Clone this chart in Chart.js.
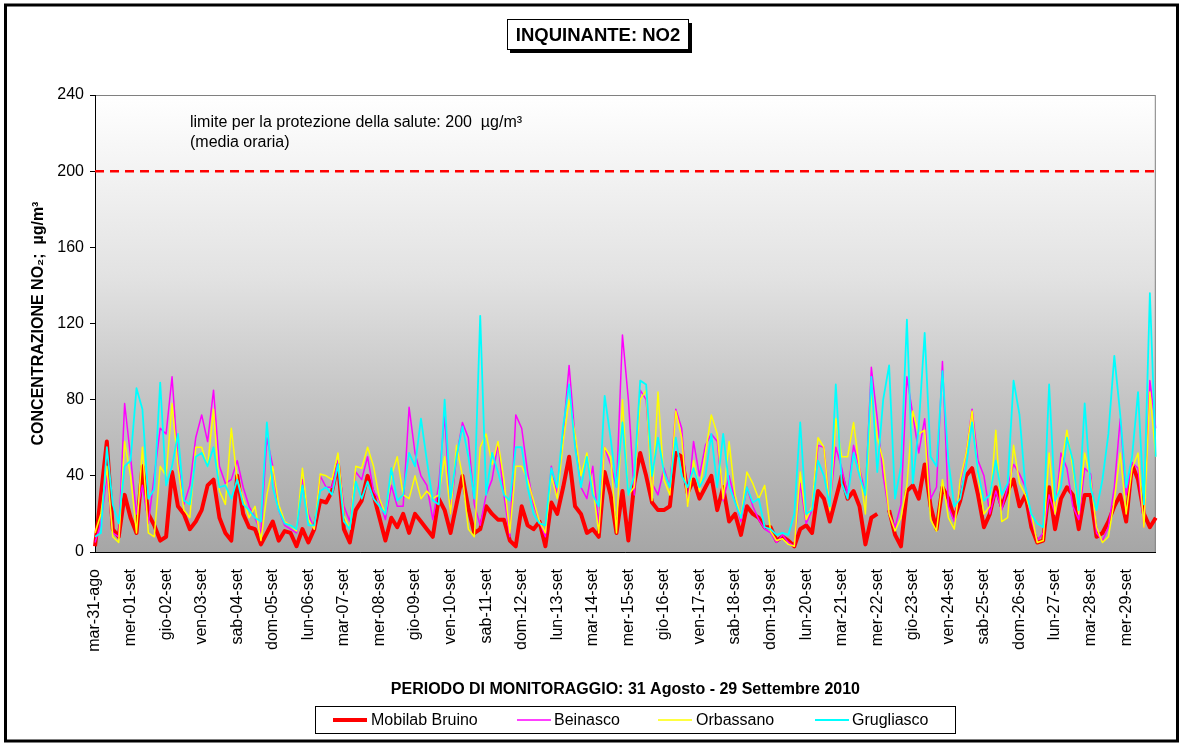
<!DOCTYPE html>
<html>
<head>
<meta charset="utf-8">
<script src="https://cdn.jsdelivr.net/npm/chart.js@4.4.1/dist/chart.umd.min.js"></script>
<style>
  body { margin: 0; background: #fff; }
  #wrap { width: 1184px; height: 744px; }
</style>
</head>
<body>
<div id="wrap"><canvas id="no2"></canvas></div>
<script>
// giorni del periodo (etichette asse x)
const giorni = [
  "mar-31-ago", "mer-01-set", "gio-02-set", "ven-03-set", "sab-04-set", "dom-05-set",
  "lun-06-set", "mar-07-set", "mer-08-set", "gio-09-set", "ven-10-set", "sab-11-set",
  "dom-12-set", "lun-13-set", "mar-14-set", "mer-15-set", "gio-16-set", "ven-17-set",
  "sab-18-set", "dom-19-set", "lun-20-set", "mar-21-set", "mer-22-set", "gio-23-set",
  "ven-24-set", "sab-25-set", "dom-26-set", "lun-27-set", "mar-28-set", "mer-29-set",
];
const ore = ["00", "04", "08", "12", "16", "20"]; // un valore ogni 4 ore
const limite = 200; // µg/m³, media oraria

// concentrazioni NO2 (µg/m³), 6 valori al giorno
const bruino = [
  3, 30, 58, 12, 8, 30,   18, 10, 45, 20, 14, 6,   8, 42, 24, 20, 12, 16,
  22, 35, 38, 18, 10, 6,  40, 20, 13, 12, 4, 10,   16, 6, 11, 10, 3, 12,
  5, 12, 27, 26, 32, 46,  12, 5, 22, 27, 40, 30,   18, 6, 18, 13, 20, 10,
  20, 16, 12, 8, 28, 22,  10, 25, 40, 23, 10, 12,  24, 20, 17, 17, 6, 3,
  24, 14, 12, 16, 3, 26,  20, 34, 50, 24, 20, 10,  12, 8, 42, 30, 10, 32,
  6, 36, 52, 40, 26, 22,  22, 24, 52, 50, 31, 38,  28, 34, 40, 22, 34, 16,
  20, 9, 24, 20, 18, 13,  13, 6, 8, 6, 3, 12,      14, 10, 32, 28, 16, 28,
  40, 28, 32, 24, 4, 18,  20, null, 22, 9, 3, 32,  35, 28, 46, 24, 12, 34,
  28, 18, 27, 40, 44, 30, 13, 20, 34, 24, 32, 38,  24, 30, 13, 5, 6, 34,
  12, 28, 34, 30, 12, 30, 30, 8, 10, 16, 24, 30,   16, 46, 38, 20, 13, 18,
];
const beinasco = [
  5, 15, 40, 10, 8, 78,   50, 20, 35, 15, 40, 65,  62, 92, 48, 25, 35, 60,
  72, 58, 85, 45, 36, 38, 48, 34, 24, 18, 10, 60,  45, 22, 14, 12, 10, 38,
  20, 12, 40, 34, 34, 48, 24, 16, 42, 38, 50, 32,  27, 17, 35, 24, 24, 76,
  52, 40, 35, 17, 35, 72, 20, 50, 68, 60, 25, 14,  30, 38, 57, 30, 8, 72,
  65, 42, 25, 16, 8, 45,  30, 62, 98, 60, 34, 28,  45, 14, 55, 46, 34, 114,
  80, 30, 85, 80, 36, 30, 44, 34, 75, 65, 25, 58,  40, 56, 62, 58, 27, 40,
  27, 16, 34, 24, 17, 12, 10, 5, 9, 5, 3, 36,      15, 22, 56, 55, 24, 55,
  44, 30, 56, 44, 30, 97, 70, 40, 20, 13, 25, 92,  72, 52, 70, 28, 34, 100,
  24, 16, 36, 52, 75, 48, 40, 20, 32, 22, 34, 46,  41, 34, 17, 6, 10, 30,
  20, 52, 44, 24, 17, 44, 41, 10, 6, 13, 34, 70,   30, 47, 44, 13, 90, 65,
];
const orbassano = [
  10, 20, 45, 8, 5, 58,   40, 10, 55, 10, 8, 45,   40, 78, 45, 22, 18, 55,
  55, 45, 75, 32, 25, 65, 38, 28, 18, 24, 6, 30,   45, 25, 16, 14, 11, 44,
  17, 12, 41, 40, 38, 52, 19, 12, 45, 44, 55, 45,  28, 20, 40, 50, 30, 28,
  40, 28, 32, 28, 30, 50, 20, 56, 40, 12, 8, 55,   62, 46, 58, 38, 10, 45,
  45, 38, 27, 16, 10, 40, 28, 58, 80, 62, 40, 52,  34, 10, 55, 50, 10, 80,
  30, 34, 80, 85, 27, 84, 38, 30, 74, 60, 24, 48,  32, 52, 72, 62, 28, 58,
  30, 18, 42, 36, 28, 35, 11, 6, 7, 4, 3, 42,      17, 24, 60, 55, 22, 70,
  50, 50, 68, 44, 20, 84, 60, 48, 20, 11, 18, 35,  74, 62, 64, 17, 11, 38,
  18, 12, 38, 52, 74, 40, 20, 24, 64, 16, 18, 56,  36, 30, 20, 5, 6, 52,
  20, 44, 64, 44, 20, 52, 38, 13, 5, 8, 27, 52,    20, 44, 52, 13, 84, 50,
];
const grugliasco = [
  8, 10, 55, 25, 15, 45,  48, 86, 75, 28, 33, 89,  35, 45, 62, 27, 25, 50,
  52, 45, 55, 34, 35, 28, 38, 25, 22, 18, 16, 68,  34, 22, 15, 14, 12, 35,
  14, 14, 32, 34, 30, 46, 16, 12, 37, 28, 37, 28,  24, 20, 44, 27, 30, 52,
  45, 70, 48, 27, 25, 80, 28, 50, 66, 50, 28, 124, 30, 52, 42, 30, 27, 55,
  55, 34, 20, 15, 14, 44, 34, 66, 88, 55, 34, 50,  30, 24, 82, 60, 34, 68,
  30, 40, 90, 88, 40, 60, 42, 34, 60, 40, 34, 44,  34, 40, 62, 34, 62, 35,
  26, 18, 34, 26, 28, 13, 12, 9, 10, 9, 20, 68,    20, 22, 48, 40, 24, 88,
  36, 28, 52, 40, 30, 92, 42, 80, 98, 28, 45, 122, 36, 66, 115, 50, 45, 95,
  48, 24, 28, 45, 68, 42, 27, 30, 48, 30, 36, 90,  72, 34, 20, 15, 13, 88,
  27, 34, 60, 48, 22, 78, 34, 22, 38, 62, 103, 72, 34, 50, 84, 25, 136, 50,
];

const etichette = giorni.flatMap((g) => ore.map((h) => g + " " + h));

// sfondo sfumato, cornici, titolo, nota sul limite e legenda
const decorazioni = {
  id: "decorazioni",
  beforeDraw(chart) {
    const { ctx, chartArea: a } = chart;
    ctx.save();
    ctx.fillStyle = "#fff";
    ctx.fillRect(0, 0, chart.width, chart.height);
    const g = ctx.createLinearGradient(0, a.top, 0, a.bottom);
    g.addColorStop(0, "#ffffff");
    g.addColorStop(0.4, "#e2e2e2");
    g.addColorStop(0.67, "#c4c4c4");
    g.addColorStop(1, "#a6a6a6");
    ctx.fillStyle = g;
    ctx.fillRect(a.left, a.top, a.right - a.left, a.bottom - a.top);
    ctx.strokeStyle = "#808080";
    ctx.lineWidth = 1;
    ctx.strokeRect(a.left + 0.5, a.top + 0.5, a.right - a.left - 1, a.bottom - a.top);
    ctx.restore();
  },
  afterDraw(chart) {
    const { ctx } = chart;
    ctx.save();
    // cornice esterna
    ctx.strokeStyle = "#000";
    ctx.lineWidth = 3;
    ctx.strokeRect(5.5, 5, 1172, 736);

    // titolo con ombra
    ctx.fillStyle = "#000";
    ctx.fillRect(510, 23, 182, 30);
    ctx.fillStyle = "#fff";
    ctx.fillRect(507, 20, 182, 30);
    ctx.lineWidth = 1;
    ctx.strokeRect(507.5, 19.5, 181, 30);
    ctx.fillStyle = "#000";
    ctx.font = "bold 18.5px 'Liberation Sans', Arial, sans-serif";
    ctx.textAlign = "center";
    ctx.textBaseline = "middle";
    ctx.fillText("INQUINANTE: NO2", 598, 35.5);

    // nota sul limite
    ctx.font = "16px 'Liberation Sans', Arial, sans-serif";
    ctx.textAlign = "left";
    ctx.fillText("limite per la protezione della salute: " + limite + "  µg/m³", 190, 123);
    ctx.fillText("(media oraria)", 190, 143);

    // legenda
    ctx.strokeRect(315.5, 706.5, 640, 27);
    const pos = [[333, 371], [517, 554], [658, 696], [815, 852]];
    chart.data.datasets.slice(0, 4).forEach((ds, i) => {
      ctx.strokeStyle = ds.borderColor;
      ctx.lineWidth = ds.borderWidth;
      ctx.beginPath();
      ctx.moveTo(pos[i][0], 720);
      ctx.lineTo(pos[i][0] + 34, 720);
      ctx.stroke();
      ctx.fillStyle = "#000";
      ctx.fillText(ds.label, pos[i][1], 720.5);
    });
    ctx.restore();
  },
};

Chart.defaults.font.family = "'Liberation Sans', Arial, sans-serif";
Chart.defaults.font.size = 16;
Chart.defaults.color = "#000";

const data = {
  labels: etichette,
  datasets: [
    { label: "Mobilab Bruino", data: bruino, borderColor: "#ff0000", borderWidth: 4, order: 4 },
    { label: "Beinasco", data: beinasco, borderColor: "#ff00ff", borderWidth: 1.5, order: 3 },
    { label: "Orbassano", data: orbassano, borderColor: "#ffff00", borderWidth: 1.5, order: 2 },
    { label: "Grugliasco", data: grugliasco, borderColor: "#00ffff", borderWidth: 1.8, order: 1 },
    {
      label: "limite",
      data: etichette.map(() => limite),
      borderColor: "#ff0000",
      borderWidth: 2.5,
      borderDash: [9, 6],
      order: 0,
    },
  ],
};

const config = {
  type: "line",
  data: data,
  options: {
    responsive: false,
    animation: false,
    layout: { padding: { left: 12, right: 26, top: 95, bottom: 44 } },
    elements: {
      point: { radius: 0 },
      line: { tension: 0, borderJoinStyle: "round", fill: false },
    },
    plugins: {
      legend: { display: false },
      title: { display: false },
      tooltip: { enabled: false },
    },
    scales: {
      x: {
        grid: { display: false },
        border: { color: "#000", width: 1 },
        ticks: {
          autoSkip: false,
          minRotation: 90,
          maxRotation: 90,
          padding: 9,
          callback: (v, i) => (i % ore.length === 0 ? giorni[i / ore.length] : ""),
        },
        title: {
          display: true,
          text: "PERIODO DI MONITORAGGIO: 31 Agosto - 29 Settembre 2010",
          font: { size: 16, weight: "bold" },
          padding: { top: 0, bottom: 1 },
        },
        afterFit: (s) => { s.height = 148; },
      },
      y: {
        min: 0,
        max: 240,
        grid: { drawOnChartArea: false, tickLength: 5, color: "#000" },
        border: { color: "#000", width: 1 },
        ticks: { stepSize: 40, padding: 6 },
        title: {
          display: true,
          text: "CONCENTRAZIONE NO₂;  µg/m³",
          font: { size: 16, weight: "bold" },
          padding: { top: 17, bottom: 0 },
        },
        afterFit: (s) => { s.width = 83; },
      },
    },
  },
  plugins: [decorazioni],
};

const canvas = document.getElementById("no2");
canvas.width = 1184;
canvas.height = 744;
new Chart(canvas, config);
</script>
</body>
</html>
